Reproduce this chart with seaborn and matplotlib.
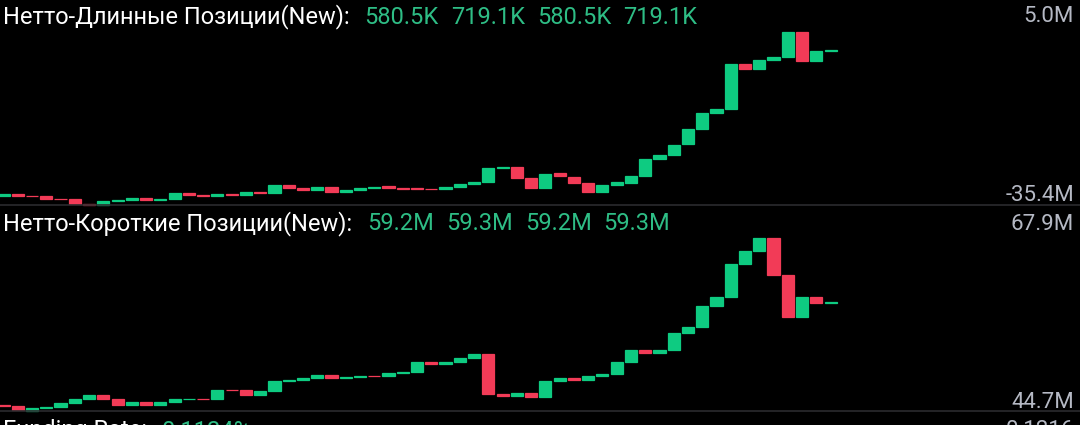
import matplotlib
matplotlib.use("Agg")
import matplotlib.pyplot as plt
import numpy as np
import seaborn as sns

# Net long positions (millions), open / close per candle
long_open = [-33.2, -32.8, -33.3, -33.4, -34.0, -34.1, -35.1, -35.4, -34.4, -34.3,
             -33.8, -34.2, -34.0, -32.5, -33.1, -33.4, -32.8, -33.1, -32.4, -32.6,
             -30.7, -31.5, -31.9, -31.1, -32.4, -31.9, -31.5, -31.0, -31.4, -31.5,
             -31.6, -31.7, -31.1, -30.4, -30.0, -26.7, -26.5, -29.2, -31.4, -28.0,
             -28.8, -30.3, -32.4, -30.7, -30.2, -28.6, -24.6, -23.8, -21.2, -17.6,
             -14.0, -12.9, -2.4, -3.6, -1.5, -0.8, 5.0, -1.8, 0.58]
long_close = [-32.8, -33.3, -33.4, -34.0, -34.1, -35.1, -35.3, -34.4, -34.3, -33.8,
              -34.3, -34.0, -32.5, -33.1, -33.4, -32.8, -33.0, -32.4, -32.6, -30.7,
              -31.4, -31.9, -31.1, -32.3, -31.9, -31.5, -31.1, -31.4, -31.6, -31.7,
              -31.7, -31.3, -30.4, -30.0, -26.8, -26.5, -29.2, -31.4, -28.1, -28.6,
              -30.3, -32.4, -30.7, -30.1, -28.6, -24.7, -23.8, -21.3, -17.7, -14.0,
              -12.9, -2.4, -3.6, -1.5, -0.8, 5.0, -1.8, 0.58, 0.72]

# Net short positions (millions)
short_open = [45.4, 45.3, 44.7, 45.0, 45.2, 45.7, 46.3, 46.8, 46.3, 45.5,
              45.8, 45.5, 45.8, 46.2, 46.3, 46.2, 47.5, 47.4, 46.8, 47.3,
              48.7, 48.8, 49.1, 49.5, 49.1, 49.2, 49.4, 49.3, 49.7, 49.9,
              51.3, 50.9, 51.2, 51.8, 52.3, 46.9, 46.7, 47.0, 46.5, 48.7,
              49.1, 48.8, 49.4, 49.6, 51.3, 52.8, 52.5, 52.8, 55.1, 55.9,
              58.8, 60.0, 64.4, 66.2, 67.9, 63.0, 57.3, 60.0, 59.2]
short_close = [45.3, 44.7, 45.0, 45.2, 45.7, 46.3, 46.8, 46.3, 45.4, 45.8,
               45.5, 45.8, 46.2, 46.3, 46.2, 47.5, 47.4, 46.8, 47.3, 48.7,
               48.8, 49.1, 49.5, 49.1, 49.2, 49.4, 49.3, 49.7, 49.9, 51.3,
               50.9, 51.2, 51.8, 52.3, 46.9, 46.7, 47.0, 46.5, 48.7, 49.1,
               48.8, 49.4, 49.6, 51.3, 52.8, 52.5, 52.8, 55.1, 55.9, 58.8,
               60.0, 64.4, 66.2, 67.9, 63.0, 57.3, 60.0, 59.2, 59.3]

long_title = "Нетто-Длинные Позиции(New):"
long_ohlc = ["580.5K", "719.1K", "580.5K", "719.1K"]
long_range = [5.0, -35.4]
long_range_labels = ["5.0M", "-35.4M"]

short_title = "Нетто-Короткие Позиции(New):"
short_ohlc = ["59.2M", "59.3M", "59.2M", "59.3M"]
short_range = [67.9, 44.7]
short_range_labels = ["67.9M", "44.7M"]

funding_title = "Funding Rate:"
funding_value = "0.1124%"
funding_right = "0.1216"

UP = "#0ecb81"
DOWN = "#f23b57"
TXT_UP = "#2ebd85"
AXIS_TXT = "#b5b9c4"
BG = "#000000"

sns.set_theme(style="dark")
plt.rcParams['font.family'] = ['Roboto', 'DejaVu Sans']

W, H = 1080, 425
fig = plt.figure(figsize=(W / 100, H / 100), dpi=100, facecolor=BG)

STEP = 14.26
X0 = 3.5


def px_rect(top, bottom):
    return [0, (H - bottom) / H, 1, (bottom - top) / H]


def candles(ax, opens, closes, yrange):
    o = np.array(opens)
    c = np.array(closes)
    x = np.arange(len(o))
    colors = [UP if cc >= oo else DOWN for oo, cc in zip(o, c)]
    ax.bar(x, c - o, bottom=o, width=0.85, color=colors, edgecolor=colors,
           linewidth=0.9, clip_on=False)
    ax.set_xlim(-X0 / STEP, (W - X0) / STEP)
    ax.set_ylim(yrange[1], yrange[0])
    ax.set_facecolor(BG)
    ax.set_axis_off()


ax1 = fig.add_axes(px_rect(32, 205))
candles(ax1, long_open, long_close, long_range)
ax2 = fig.add_axes(px_rect(238.3, 410.5))
candles(ax2, short_open, short_close, short_range)

# separator lines
for yy in (205, 411):
    fig.add_artist(plt.Line2D([0, 1], [(H - yy) / H] * 2, color="#2b2b2e", lw=1.2))

FS = 17
renderer = fig.canvas.get_renderer()


def header(y, title, values, title_color="white"):
    t = fig.text(3 / W, (H - y) / H, title, color=title_color, fontsize=FS,
                 va="center", ha="left")
    x_end = t.get_window_extent(renderer).x1 + 15
    for v in values:
        tv = fig.text(x_end / W, (H - y) / H, v, color=TXT_UP, fontsize=FS,
                      va="center", ha="left")
        x_end = tv.get_window_extent(renderer).x1 + 12


header(17, long_title, long_ohlc)
header(224, short_title, short_ohlc)
header(431, funding_title, [funding_value])

# right side range labels
for y, lab in [(17, long_range_labels[0]), (195, long_range_labels[1]),
               (225, short_range_labels[0]), (402, short_range_labels[1]),
               (431, funding_right)]:
    fig.text(1074 / W, (H - y) / H, lab, color=AXIS_TXT, fontsize=16,
             va="center", ha="right")

fig.savefig("out.png", dpi=100, facecolor=BG)
